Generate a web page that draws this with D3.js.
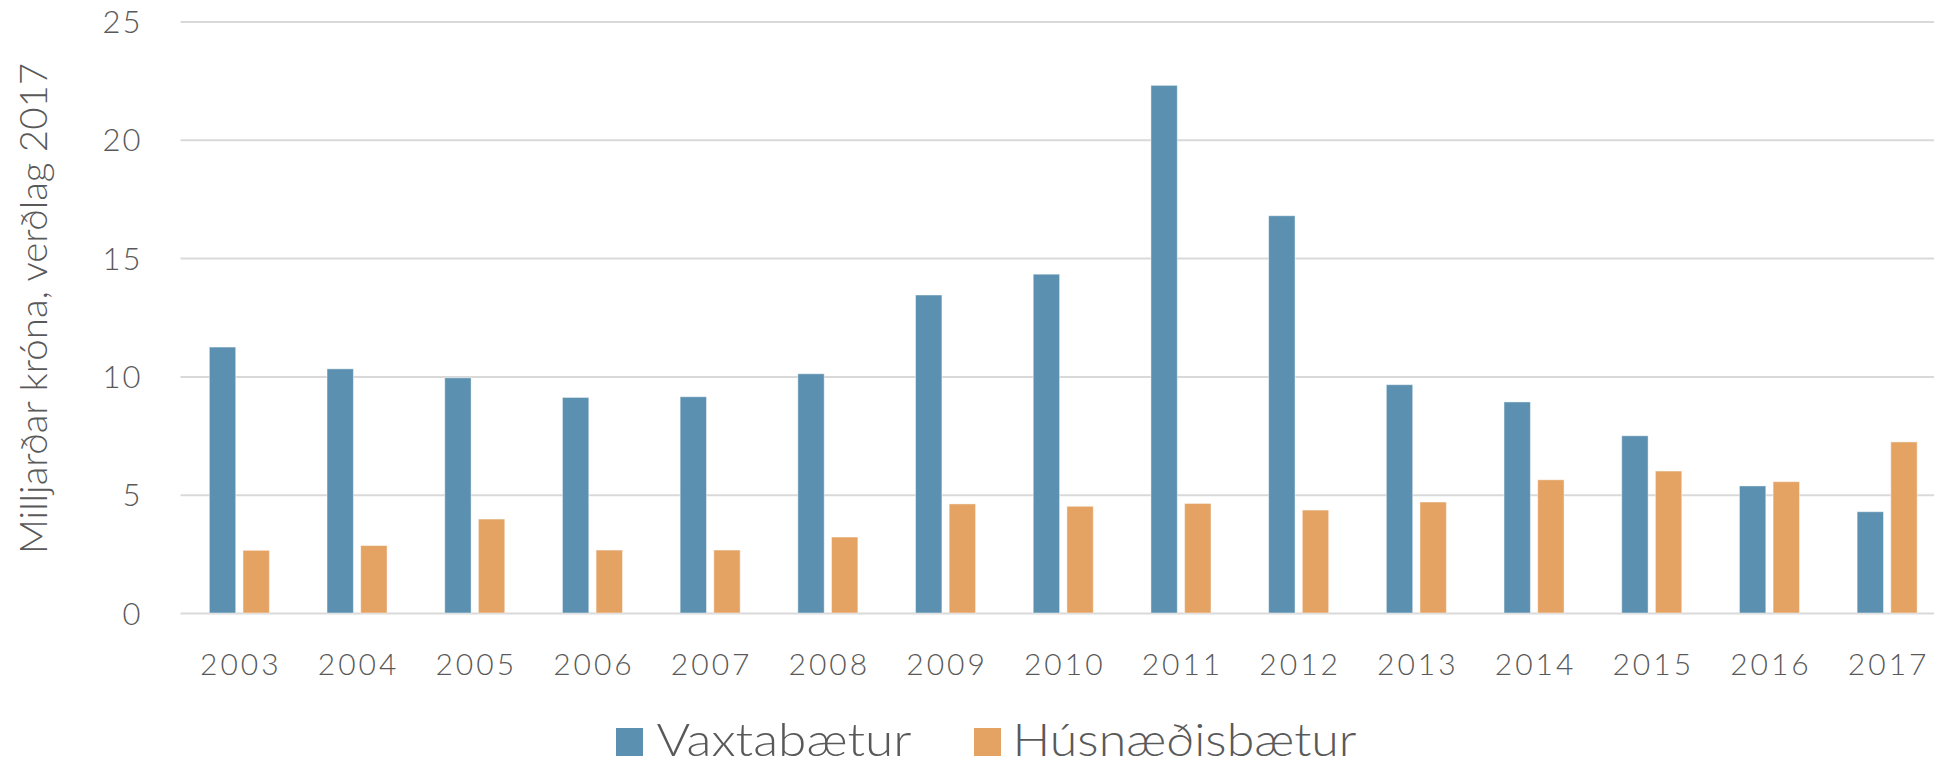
<!DOCTYPE html>
<html>
<head>
<meta charset="utf-8">
<script src="https://cdn.jsdelivr.net/npm/d3@7"></script>
<style>
  html, body { margin: 0; padding: 0; background: #fff; overflow: hidden; }
  svg { display: block; }
  text { fill: #595959; font-family: Lato, "Open Sans", sans-serif; font-weight: 300; }
</style>
</head>
<body>
<div id="chart"></div>
<script>
// Vaxtabætur og húsnæðisbætur, milljarðar króna á verðlagi 2017
const years = ['2003', '2004', '2005', '2006', '2007', '2008', '2009', '2010',
  '2011', '2012', '2013', '2014', '2015', '2016', '2017'];
const vaxtabaetur = [11.24, 10.32, 9.94, 9.11, 9.14, 10.11, 13.44, 14.32,
  22.30, 16.79, 9.65, 8.92, 7.49, 5.37, 4.28];
const husnaedisbaetur = [2.65, 2.85, 3.97, 2.66, 2.66, 3.21, 4.61, 4.51,
  4.63, 4.35, 4.69, 5.63, 6.00, 5.55, 7.23];
const seriesNames = ['Vaxtabætur', 'Húsnæðisbætur'];
const yTicks = [0, 5, 10, 15, 20, 25];
const yTitle = 'Milljarðar króna, verðlag 2017';

const W = 1934;
const H = 766;
const COLORS = ['#5b90b0', '#e4a263'];
const plot = { left: 180.5, right: 1946, top: 21.5, bottom: 613 };

const svg = d3.select('#chart')
  .append('svg')
  .attr('width', W)
  .attr('height', H);

const x0 = d3.scaleBand()
  .domain(years)
  .range([plot.left, plot.right])
  .paddingInner(0.49)
  .paddingOuter(0.245);

const x1 = d3.scaleBand()
  .domain(seriesNames)
  .range([0, x0.bandwidth()])
  .paddingInner(0.217);

const y = d3.scaleLinear()
  .domain([0, 25])
  .range([plot.bottom, plot.top]);

// gridlines + y labels
const yAxis = d3.axisLeft(y)
  .tickValues(yTicks)
  .tickSize(-(plot.right - plot.left))
  .tickPadding(38)
  .tickFormat(d3.format('d'));

const gy = svg.append('g')
  .attr('transform', `translate(${plot.left},0)`)
  .call(yAxis);
gy.select('.domain').remove();
gy.selectAll('.tick line')
  .attr('stroke', '#d9d9d9')
  .attr('stroke-width', 2);
gy.selectAll('.tick text')
  .attr('font-size', 31)
  .attr('letter-spacing', 2)
  .attr('dy', '0.36em')
  .style('fill', '#595959');

// bars
const rows = years.map((yr, i) => ({ year: yr, values: [vaxtabaetur[i], husnaedisbaetur[i]] }));

const groups = svg.append('g')
  .selectAll('g')
  .data(rows)
  .join('g')
  .attr('transform', d => `translate(${x0(d.year)},0)`);

groups.selectAll('rect')
  .data(d => d.values.map((v, k) => ({ name: seriesNames[k], value: v, k })))
  .join('rect')
  .attr('x', d => x1(d.name))
  .attr('width', x1.bandwidth())
  .attr('y', d => y(d.value))
  .attr('height', d => y(0) - y(d.value))
  .attr('fill', d => COLORS[d.k])
  .attr('stroke', 'rgba(255,255,255,0.45)')
  .attr('stroke-width', 1);

// x labels
const xAxis = d3.axisBottom(x0).tickSize(0).tickPadding(0);
const gx = svg.append('g')
  .attr('transform', `translate(0,${plot.bottom})`)
  .call(xAxis);
gx.select('.domain').remove();
gx.selectAll('.tick text')
  .attr('y', 62)
  .attr('dy', 0)
  .attr('dx', 1.5)
  .attr('font-size', 30)
  .attr('letter-spacing', 3)
  .style('fill', '#595959');

// y title
svg.append('text')
  .attr('transform', `translate(47,308.5) rotate(-90)`)
  .attr('text-anchor', 'middle')
  .attr('font-size', 37)
  .attr('textLength', 491)
  .attr('lengthAdjust', 'spacingAndGlyphs')
  .text(yTitle);

// legend
const legendItems = [
  { name: seriesNames[0], color: COLORS[0], x: 616, textW: 255 },
  { name: seriesNames[1], color: COLORS[1], x: 974, textW: 344 },
];
const lg = svg.append('g').selectAll('g')
  .data(legendItems)
  .join('g')
  .attr('transform', d => `translate(${d.x},728)`);
lg.append('rect')
  .attr('width', 27)
  .attr('height', 28)
  .attr('fill', d => d.color);
lg.append('text')
  .attr('x', d => d.name === seriesNames[0] ? 40.5 : 38.5)
  .attr('y', 27.5)
  .attr('font-size', 46)
  .attr('textLength', d => d.textW)
  .attr('lengthAdjust', 'spacingAndGlyphs')
  .text(d => d.name);
</script>
</body>
</html>
